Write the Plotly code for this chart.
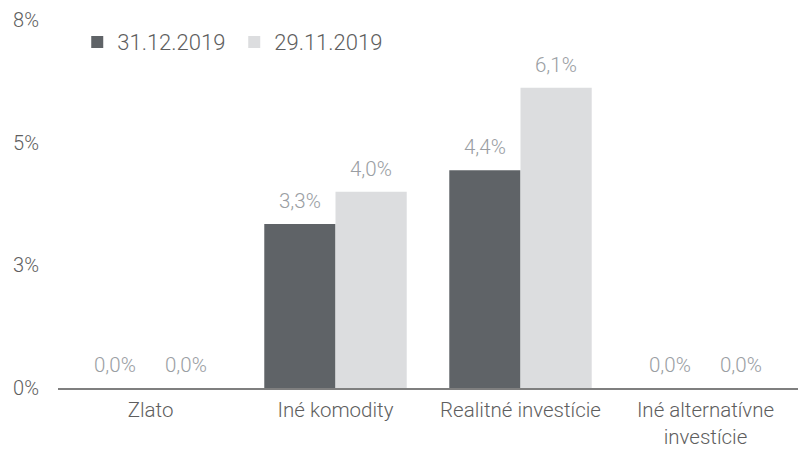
import plotly.graph_objects as go

categories = ["Zlato", "Iné komodity", "Realitné investície", "Iné alternatívne<br>investície"]
series_names = ["31.12.2019", "29.11.2019"]
values_dec = [0.0, 3.34, 4.44, 0.0]
values_nov = [0.0, 4.0, 6.12, 0.0]
tick_vals = [0, 2.5, 5, 7.5]
tick_text = ["0%", "3%", "5%", "8%"]

colors = ["#5f6367", "#dcdddf"]
FONT = "Roboto"
W = 300
TXT = "#5e5e5e"

fig = go.Figure()
for name, vals, col in zip(series_names, [values_dec, values_nov], colors):
    fig.add_trace(go.Bar(x=categories, y=vals, name=name, marker_color=col,
                         marker_line_width=0))

def lab(v):
    return f"{v:.1f}".replace(".", ",") + "%"

annots = []
for j, vals in enumerate([values_dec, values_nov]):
    shift = -35.5 if j == 0 else 35.5
    for c, v in zip(categories, vals):
        annots.append(dict(x=c, y=v, text=lab(v), showarrow=False, xshift=shift,
                           yshift=23, yanchor="middle",
                           font=dict(family=FONT, size=20.5, weight=W, color="#9a9ea3")))

fig.update_layout(
    width=806, height=450,
    margin=dict(l=58, r=8, t=20, b=62, autoexpand=False),
    paper_bgcolor="white", plot_bgcolor="white",
    barmode="group", bargap=0.23, bargroupgap=0,
    font=dict(family=FONT, size=20, weight=W, color=TXT),
    legend=dict(orientation="h", x=0.026, y=0.94, xanchor="left", yanchor="middle",
                font=dict(family=FONT, size=22, weight=W, color=TXT),
                entrywidth=112, tracegroupgap=0, bgcolor="rgba(0,0,0,0)"),
    annotations=annots,
    showlegend=True,
)
fig.update_xaxes(showline=True, linecolor="#7f7f7f", linewidth=1.5, ticks="",
                 showgrid=False, ticklabelstandoff=3, automargin=False,
                 tickfont=dict(family=FONT, size=20.5, weight=W, color=TXT))
fig.update_yaxes(range=[0, 7.5], tickvals=tick_vals, ticktext=tick_text, showgrid=False,
                 zeroline=False, showline=False, ticks="", ticklabelstandoff=18,
                 automargin=False,
                 tickfont=dict(family=FONT, size=20, weight=W, color=TXT))

fig.write_html("out.html", config={"displayModeBar": False},
               post_script="document.body.style.margin='0';window.dispatchEvent(new Event('resize'));")
